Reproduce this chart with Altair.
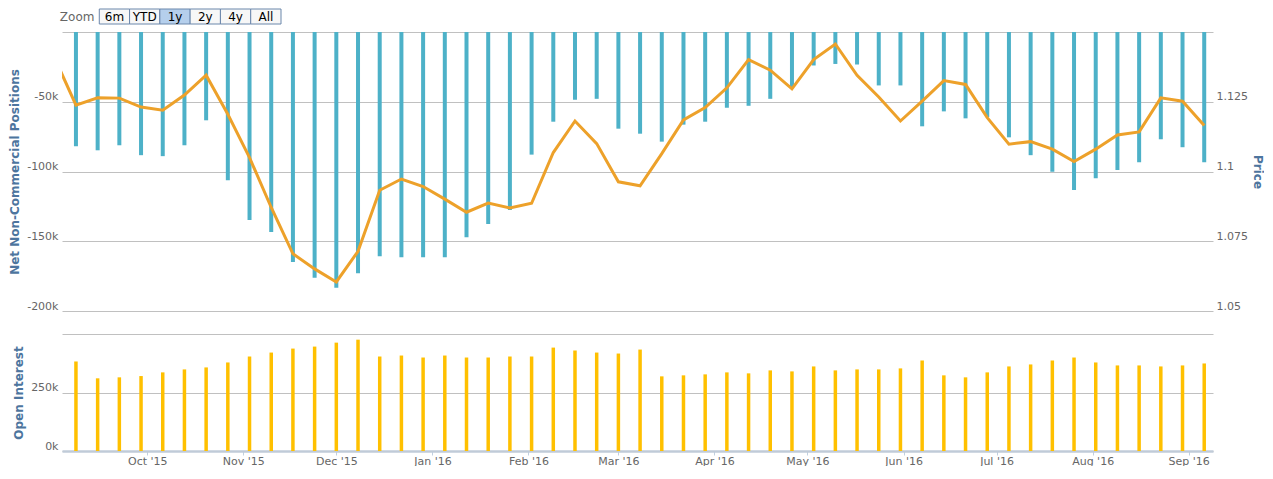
import altair as alt
import pandas as pd

# ---------------- data ----------------
dates = pd.date_range("2015-09-08", periods=53, freq="7D").strftime("%Y-%m-%d").tolist()

net_positions_k = [
    -81.9, -84.8, -81.2, -88.3, -89.0, -81.2, -63.3, -106.2, -134.8, -143.3,
    -164.8, -176.2, -183.3, -172.9, -160.7, -161.4, -161.4, -161.4, -147.1, -137.6,
    -127.6, -87.9, -64.3, -48.6, -47.9, -69.3, -72.9, -78.6, -66.4, -64.3,
    -54.3, -52.9, -47.9, -40.0, -24.0, -22.9, -23.3, -38.3, -38.3, -67.6,
    -56.9, -61.9, -61.0, -75.5, -88.3, -100.2, -113.3, -104.8, -99.0, -93.3,
    -76.9, -82.6, -93.3,
]

price_dates = ["2015-09-01"] + dates
prices = [
    1.1410,
    1.1238, 1.1264, 1.1263, 1.1231, 1.1220, 1.1274, 1.1345, 1.1205, 1.1050, 1.0871,
    1.0705, 1.0651, 1.0604, 1.0714, 1.0933, 1.0973, 1.0946, 1.0901, 1.0854, 1.0887,
    1.0869, 1.0886, 1.1068, 1.1181, 1.1100, 1.0963, 1.0949, 1.1064, 1.1185, 1.1229,
    1.1300, 1.1401, 1.1363, 1.1296, 1.1401, 1.1457, 1.1345, 1.1267, 1.1181, 1.1252,
    1.1326, 1.1312, 1.1193, 1.1098, 1.1107, 1.1080, 1.1036, 1.1080, 1.1131, 1.1142,
    1.1264, 1.1252, 1.1165,
]

open_interest_k = [
    382.6, 310.6, 314.8, 320.3, 336.0, 348.7, 357.2, 378.4, 403.8, 420.7,
    437.7, 446.2, 463.1, 475.8, 403.8, 408.0, 399.5, 408.0, 399.5, 399.5,
    403.8, 403.8, 441.9, 429.2, 420.7, 416.5, 433.5, 319.0, 323.3, 327.5,
    336.0, 331.8, 344.5, 340.2, 361.4, 344.5, 348.7, 348.7, 353.0, 386.8,
    323.3, 314.8, 336.0, 361.4, 369.9, 386.8, 399.5, 378.4, 365.7, 365.7,
    361.4, 365.7, 374.1,
]

zoom_labels = ["Zoom", "6m", "YTD", "1y", "2y", "4y", "All"]
selected_zoom = "1y"

# ---------------- tables ----------------
net_df = pd.DataFrame({"date": dates, "net": [v * 1000 for v in net_positions_k]})
price_df = pd.DataFrame({"date": price_dates, "price": prices})
oi_df = pd.DataFrame({"date": dates, "oi": [v * 1000 for v in open_interest_k]})
btn_df = pd.DataFrame({"label": zoom_labels})

# ---------------- styles ----------------
FONT = "DejaVu Sans"
TITLE_COLOR = "#4d759e"
LABEL_COLOR = "#666666"
GRID_COLOR = "#c0c0c0"
NET_COLOR = "#4db1c8"
PRICE_COLOR = "#eda12a"
OI_COLOR = "#ffc000"
PLOT_W = 1151

x_scale = alt.Scale(
    type="utc",
    nice=False,
    padding=0,
    domain=[
        alt.DateTime(year=2015, month=9, date=3, hours=12, utc=True),
        alt.DateTime(year=2016, month=9, date=8, hours=20, utc=True),
    ],
)

left_axis_common = dict(
    grid=True, gridColor=GRID_COLOR, domain=False, ticks=False,
    labelPadding=4, labelOffset=-5, labelColor=LABEL_COLOR, labelFontSize=11,
    titleColor=TITLE_COLOR, titleFontSize=12, titleFontWeight="bold", titlePadding=5,
)

# ---------------- zoom buttons ----------------
bx = alt.X("label:N", scale=alt.Scale(domain=zoom_labels, paddingInner=0, paddingOuter=0), axis=None)
btn_rect = alt.Chart(btn_df).transform_filter("datum.label != 'Zoom'").mark_rect(
    stroke="#6b87ab", strokeWidth=1, xOffset=7
).encode(
    x=bx,
    fill=alt.condition(alt.datum.label == selected_zoom, alt.value("#b5cfec"), alt.value("#f7f7f7")),
)
btn_text = alt.Chart(btn_df).transform_filter("datum.label != 'Zoom'").mark_text(
    xOffset=7, fontSize=12, color="#000000", font=FONT
).encode(x=bx, text="label:N")
zoom_text = alt.Chart(btn_df).transform_filter("datum.label == 'Zoom'").mark_text(
    fontSize=12, color=LABEL_COLOR, font=FONT
).encode(x=bx, text="label:N")
buttons = alt.layer(btn_rect, btn_text, zoom_text).properties(width=212, height=15)

# ---------------- top panel ----------------
net_bars = alt.Chart(net_df).mark_bar(color=NET_COLOR, size=4).encode(
    x=alt.X("date:T", scale=x_scale, axis=None),
    y=alt.Y(
        "net:Q",
        scale=alt.Scale(domain=[-200000, 0], nice=False),
        axis=alt.Axis(
            title="Net Non-Commercial Positions",
            values=[-200000, -150000, -100000, -50000, 0],
            labelExpr="datum.value == 0 ? '' : (datum.value / 1000) + 'k'",
            **left_axis_common,
        ),
    ),
)
price_line = alt.Chart(price_df).mark_line(color=PRICE_COLOR, strokeWidth=3, clip=True).encode(
    x=alt.X("date:T", scale=x_scale, axis=None),
    y=alt.Y(
        "price:Q",
        scale=alt.Scale(domain=[1.05, 1.15], nice=False, zero=False),
        axis=alt.Axis(
            orient="right", title="Price", grid=False, domain=False, ticks=False,
            values=[1.05, 1.075, 1.1, 1.125, 1.15],
            labelExpr="datum.value > 1.149 ? '' : format(datum.value, '.3~f')",
            labelPadding=3, labelOffset=-5, labelColor=LABEL_COLOR, labelFontSize=11,
            titleColor=TITLE_COLOR, titleFontSize=12, titleFontWeight="bold", titlePadding=3,
        ),
    ),
)
top = alt.layer(net_bars, price_line).resolve_scale(y="independent").properties(width=PLOT_W, height=279)

# ---------------- bottom panel ----------------
bottom = alt.Chart(oi_df).mark_bar(color=OI_COLOR, size=3.5).encode(
    x=alt.X(
        "date:T", scale=x_scale,
        axis=alt.Axis(
            title=None, format="%b '%y", tickCount=alt.TimeIntervalStep(interval="month", step=1),
            grid=False, domainColor="#c0cbd8", domainWidth=2.5, tickColor="#c0d0e0", tickSize=4,
            labelPadding=0, labelColor=LABEL_COLOR, labelFontSize=11, labelFlush=False,
        ),
    ),
    y=alt.Y(
        "oi:Q",
        scale=alt.Scale(domain=[0, 500000], nice=False),
        axis=alt.Axis(
            title="Open Interest",
            values=[0, 250000, 500000],
            labelExpr="datum.value == 500000 ? '' : (datum.value / 1000) + 'k'",
            **left_axis_common,
        ),
    ),
).properties(width=PLOT_W, height=117, title=alt.TitleParams(" ", fontSize=10, offset=6))

chart = (
    alt.vconcat(buttons, top, bottom, spacing=7)
    .properties(padding={"left": 0, "top": 0, "right": 0, "bottom": 0})
    .configure(font=FONT)
    .configure_view(stroke=None)
    .configure_axis(labelFont=FONT, titleFont=FONT)
)

chart.save("out.html", embed_options={"renderer": "svg", "actions": False})
